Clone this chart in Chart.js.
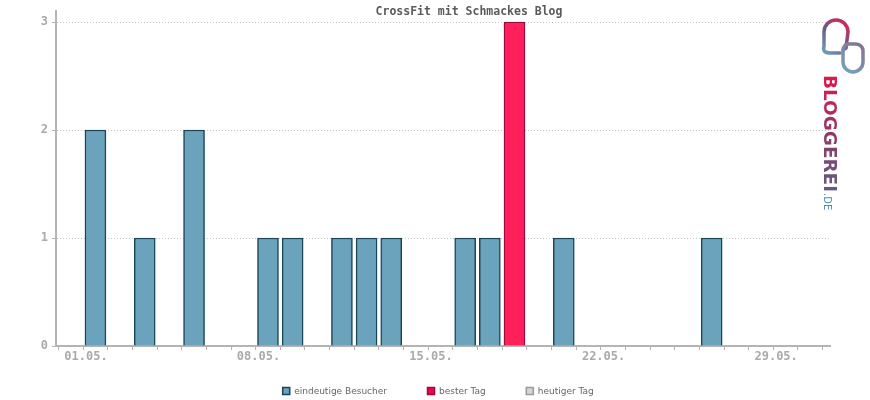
<!DOCTYPE html>
<html lang="de">
<head>
    <meta charset="UTF-8">
    <title>CrossFit mit Schmackes Blog</title>
    <style>
        body { margin: 0; background: #fff; }
        canvas { display: block; }
    </style>
</head>
<body>
    <canvas id="myChart" width="870" height="400"></canvas>

    <script src="https://cdn.jsdelivr.net/npm/chart.js"></script>
    <script>
        // Tage im Mai und eindeutige Besucher pro Tag
        var days = [1, 2, 3, 4, 5, 6, 7, 8, 9, 10, 11, 12, 13, 14, 15, 16, 17, 18, 19, 20, 21, 22, 23, 24, 25, 26, 27, 28, 29, 30];
        var visitors = [2, 0, 1, 0, 2, 0, 0, 1, 1, 0, 1, 1, 1, 0, 0, 1, 1, 3, 0, 1, 0, 0, 0, 0, 0, 1, 0, 0, 0, 0];
        var tickDays = [1, 8, 15, 22, 29];
        var tickLabels = ['01.05.', '08.05.', '15.05.', '22.05.', '29.05.'];
        var seriesNames = ['eindeutige Besucher', 'bester Tag', 'heutiger Tag'];
        var chartTitle = 'CrossFit mit Schmackes Blog';

        var best = Math.max.apply(null, visitors);
        var normalPoints = [];
        var bestPoints = [];
        for (var i = 0; i < days.length; i++) {
            if (visitors[i] === 0) continue;
            if (visitors[i] === best) bestPoints.push({x: days[i], y: visitors[i]});
            else normalPoints.push({x: days[i], y: visitors[i]});
        }

        var monoFont = {family: '"DejaVu Sans Mono", monospace', size: 12, weight: 'bold'};

        var titlePlugin = {
            id: 'titleAndLogo',
            afterDraw: function(chart) {
                var ctx = chart.ctx;
                ctx.save();
                // Titel
                ctx.font = 'bold 11.5px "DejaVu Sans Mono", monospace';
                ctx.fillStyle = '#5a5a5a';
                ctx.textAlign = 'center';
                ctx.textBaseline = 'middle';
                ctx.fillText(chartTitle, 469, 12);

                // Legende
                ctx.font = '9px "DejaVu Sans", sans-serif';
                ctx.textAlign = 'left';
                var fills = ['#6ba3bc', '#f2064a', '#d6d6d6'];
                var borders = ['#1b4658', '#9a0a3a', '#9a9a9a'];
                var total = 0;
                var widths = seriesNames.map(function(n) { return 12 + ctx.measureText(n).width; });
                widths.forEach(function(w) { total += w; });
                total += 40 * (seriesNames.length - 1);
                var lx = 438 - total / 2;
                seriesNames.forEach(function(n, k) {
                    ctx.fillStyle = fills[k];
                    ctx.fillRect(lx, 387, 8, 8);
                    ctx.strokeStyle = borders[k];
                    ctx.lineWidth = 1.5;
                    ctx.strokeRect(lx + 0.5, 387.5, 7, 7);
                    ctx.fillStyle = '#666';
                    ctx.fillText(n, lx + 12, 391.5);
                    lx += widths[k] + 40;
                });

                // Bloggerei Logo
                var g1 = ctx.createLinearGradient(822, 55, 850, 20);
                g1.addColorStop(0, '#6fa8c0');
                g1.addColorStop(0.5, '#6a5a86');
                g1.addColorStop(1, '#ee1a4c');
                ctx.strokeStyle = g1;
                ctx.lineWidth = 3.5;
                ctx.lineCap = 'round';
                ctx.beginPath();
                ctx.moveTo(843, 50);
                ctx.lineTo(846, 48);
                ctx.lineTo(848, 32);
                ctx.arc(836, 32, 12, 0, Math.PI, true);
                ctx.lineTo(824, 46);
                ctx.quadraticCurveTo(822, 53, 830, 53);
                ctx.lineTo(840, 53);
                ctx.stroke();

                var g2 = ctx.createLinearGradient(843, 72, 865, 42);
                g2.addColorStop(0, '#6fa8c0');
                g2.addColorStop(1, '#8a6a8a');
                ctx.strokeStyle = g2;
                ctx.beginPath();
                ctx.moveTo(846, 44);
                ctx.lineTo(856, 44);
                ctx.arc(856, 51, 7, -Math.PI / 2, 0);
                ctx.lineTo(863, 62);
                ctx.arc(853, 62, 10, 0, Math.PI);
                ctx.lineTo(843, 50);
                ctx.arc(849, 50, 6, Math.PI, Math.PI * 1.5);
                ctx.stroke();

                ctx.translate(824, 75);
                ctx.rotate(Math.PI / 2);
                var g3 = ctx.createLinearGradient(0, 0, 118, 0);
                g3.addColorStop(0, '#e0174c');
                g3.addColorStop(0.5, '#8a3c6c');
                g3.addColorStop(1, '#5a6288');
                ctx.fillStyle = g3;
                ctx.font = 'bold 17px "DejaVu Sans", sans-serif';
                ctx.textBaseline = 'alphabetic';
                var word = 'BLOGGEREI';
                var scaleX = 117 / ctx.measureText(word).width;
                ctx.save();
                ctx.scale(scaleX, 1);
                ctx.fillText(word, 0, 0);
                ctx.restore();
                ctx.fillStyle = '#4a8fb0';
                ctx.font = '10px "DejaVu Sans", sans-serif';
                ctx.fillText('.DE', 118, 0);
                ctx.restore();
            }
        };

        var ctx = document.getElementById('myChart').getContext('2d');
        var myChart = new Chart(ctx, {
            type: 'bar',
            data: {
                datasets: [
                    {
                        label: seriesNames[0],
                        data: normalPoints,
                        backgroundColor: '#6ba3bc',
                        borderColor: '#1b4658',
                        borderWidth: 1.5,
                        barThickness: 21,
                        grouped: false
                    },
                    {
                        label: seriesNames[1],
                        data: bestPoints,
                        backgroundColor: '#ff1f5a',
                        borderColor: '#9a0a3a',
                        borderWidth: 1.5,
                        barThickness: 21,
                        grouped: false
                    },
                    {
                        label: seriesNames[2],
                        data: [],
                        backgroundColor: '#d6d6d6',
                        borderColor: '#9a9a9a',
                        borderWidth: 1.5,
                        barThickness: 21,
                        grouped: false
                    }
                ]
            },
            options: {
                responsive: false,
                animation: false,
                layout: { padding: { left: 0, right: 40, top: 11, bottom: 34 } },
                plugins: {
                    legend: { display: false },
                    title: { display: false },
                    tooltip: { enabled: false }
                },
                scales: {
                    x: {
                        type: 'linear',
                        offset: false,
                        min: -0.6,
                        max: 30.8,
                        afterFit: function(scale) { scale.height = 20; },
                        ticks: {
                            stepSize: 1,
                            includeBounds: false,
                            autoSkip: false,
                            maxRotation: 0,
                            labelOffset: -9.5,
                            padding: 0,
                            color: '#aaaaaa',
                            font: monoFont,
                            callback: function(v) {
                                var k = tickDays.indexOf(v);
                                return k >= 0 ? tickLabels[k] : '';
                            }
                        },
                        grid: {
                            drawOnChartArea: false,
                            drawTicks: true,
                            tickLength: 4,
                            tickColor: '#b4b4b4'
                        },
                        border: { color: '#b4b4b4', width: 2 }
                    },
                    y: {
                        min: 0,
                        max: 3.1,
                        afterFit: function(scale) { scale.width = 56; },
                        ticks: {
                            stepSize: 1,
                            includeBounds: false,
                            padding: 4,
                            color: '#aaaaaa',
                            font: monoFont
                        },
                        grid: {
                            color: '#c4c4c4',
                            tickLength: 4,
                            tickColor: '#b4b4b4',
                            tickBorderDash: [],
                            tickWidth: 1
                        },
                        border: { color: '#b4b4b4', width: 2, dash: [1, 2] }
                    }
                }
            },
            plugins: [titlePlugin]
        });
    </script>
</body>
</html>
